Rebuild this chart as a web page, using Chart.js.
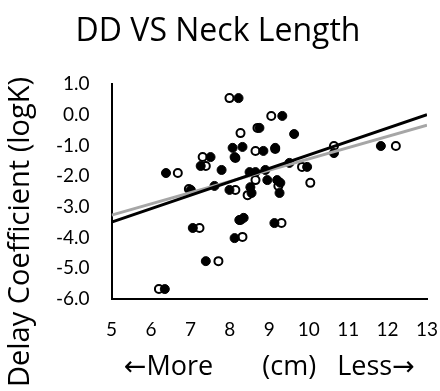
<!DOCTYPE html>
<html>
<head>
<meta charset="utf-8">
<script src="https://cdn.jsdelivr.net/npm/chart.js@4/dist/chart.umd.min.js"></script>
<style>
html, body { margin: 0; padding: 0; background: #fff; }
</style>
</head>
<body>
<canvas id="chart" width="440" height="391"></canvas>
<script>
// neck length (cm) vs delay coefficient (logK), two groups
const neckFilled = [8.22, 8.75, 9.33, 9.63, 8.07, 8.32, 8.12, 8.85, 9.15, 7.51, 7.26, 6.38, 7.79, 7.01, 7.61, 7.99, 8.50, 8.65,
    8.90, 8.95, 9.20, 9.28, 8.52, 8.55, 9.26, 9.51, 9.96, 10.64, 11.83, 8.35, 8.24, 9.13, 7.06, 8.12, 7.39, 6.35];
const logkFilled = [0.54, -0.43, -0.04, -0.63, -1.08, -1.05, -1.38, -1.18, -1.08, -1.38, -1.67, -1.90, -1.80, -2.45, -2.32, -2.45, -1.87, -1.87,
    -1.80, -2.13, -2.13, -2.22, -2.36, -2.55, -2.55, -1.57, -1.70, -1.25, -1.02, -3.36, -3.43, -3.53, -3.69, -4.02, -4.77, -5.68];

const neckOpen = [7.99, 8.27, 8.70, 9.05, 8.65, 7.31, 7.39, 6.68, 8.14, 9.15, 8.14, 8.45, 9.83, 10.04, 10.64, 12.21,
    9.31, 8.32, 7.23, 7.71, 6.20, 8.27, 8.65, 6.96, 9.23];
const logkOpen = [0.54, -0.60, -0.43, -0.04, -1.18, -1.38, -1.67, -1.90, -1.41, -1.12, -2.45, -2.62, -1.70, -2.22, -1.02, -1.02,
    -3.53, -3.98, -3.69, -4.77, -5.68, -3.43, -2.13, -2.42, -2.32];

// trend line end points
const trendFilledX = [5, 13];
const trendFilledY = [-3.50, 0.00];
const trendOpenX = [5, 13];
const trendOpenY = [-3.27, -0.34];

const xMin = 5, xMax = 13;
const yMin = -6, yMax = 1;

const chartTitle = 'DD VS Neck Length';
const yAxisTitle = 'Delay Coefficient (logK)';
const xAxisTitle = '\u2190More       (cm)   Less\u2192';

function toPoints(xs, ys) {
    let pts = [];
    for (let i = 0; i < xs.length; i++) {
        pts.push({ x: xs[i], y: ys[i] });
    }
    return pts;
}

// main title and y title drawn by hand so they sit where the original has them
const titles = {
    id: 'titles',
    afterDraw(chart) {
        const ctx = chart.ctx;
        ctx.save();
        ctx.fillStyle = '#000';
        ctx.textAlign = 'center';
        ctx.font = '32px "Open Sans"';
        ctx.textBaseline = 'alphabetic';
        ctx.fillText(chartTitle, 218, 41);

        ctx.translate(21, 232);
        ctx.rotate(-Math.PI / 2);
        ctx.font = '29px "Open Sans"';
        ctx.textBaseline = 'middle';
        ctx.fillText(yAxisTitle, 0, 0);
        ctx.restore();
    }
};

const ctx = document.getElementById('chart').getContext('2d');
new Chart(ctx, {
    type: 'scatter',
    data: {
        datasets: [
            {
                label: 'trend open',
                type: 'line',
                data: toPoints(trendOpenX, trendOpenY),
                borderColor: '#a6a6a6',
                borderWidth: 3,
                pointRadius: 0,
                fill: false,
                order: 1
            },
            {
                label: 'trend filled',
                type: 'line',
                data: toPoints(trendFilledX, trendFilledY),
                borderColor: '#000',
                borderWidth: 3,
                pointRadius: 0,
                fill: false,
                order: 0
            },
            {
                label: 'filled',
                data: toPoints(neckFilled, logkFilled),
                backgroundColor: '#000',
                borderColor: '#000',
                borderWidth: 1,
                pointRadius: 4.5,
                order: 2
            },
            {
                label: 'open',
                data: toPoints(neckOpen, logkOpen),
                backgroundColor: '#fff',
                borderColor: '#000',
                borderWidth: 2,
                pointRadius: 4,
                order: 3
            }
        ]
    },
    options: {
        responsive: false,
        animation: false,
        layout: {
            padding: { left: 34, right: 13, top: 84, bottom: 7 }
        },
        plugins: {
            legend: { display: false },
            tooltip: { enabled: false },
            title: { display: false }
        },
        scales: {
            x: {
                type: 'linear',
                min: xMin,
                max: xMax,
                grid: { display: false, drawTicks: false },
                border: { display: true, color: '#000', width: 2 },
                ticks: {
                    stepSize: 1,
                    color: '#000',
                    padding: 0,
                    font: { family: 'Lato', size: 19, lineHeight: 3.3 }
                },
                title: {
                    display: true,
                    text: xAxisTitle,
                    color: '#000',
                    font: { family: '"Open Sans", "DejaVu Sans"', size: 27 },
                    padding: { top: -10, bottom: 0 }
                }
            },
            y: {
                min: yMin,
                max: yMax,
                grid: { display: false, drawTicks: false },
                border: { display: true, color: '#000', width: 2 },
                ticks: {
                    stepSize: 1,
                    color: '#000',
                    padding: 22,
                    font: { family: 'Lato', size: 19 },
                    callback: function (v) { return v.toFixed(1); }
                }
            }
        }
    },
    plugins: [titles]
});
</script>
</body>
</html>
